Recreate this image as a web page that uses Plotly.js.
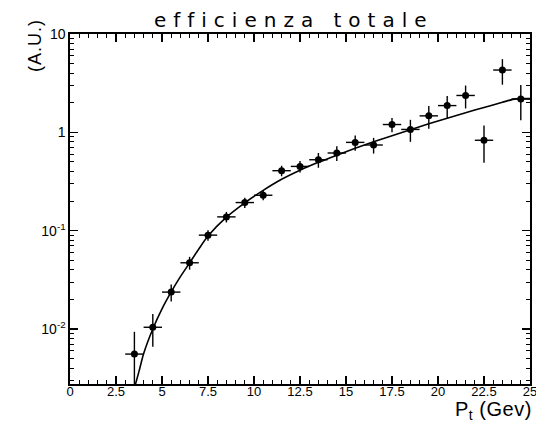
<!DOCTYPE html>
<html>
<head>
<meta charset="utf-8">
<script src="https://cdn.plot.ly/plotly-3.0.1.min.js"></script>
<style>
html,body{margin:0;padding:0;background:#fff;}
#chart{width:536px;height:423px;}
</style>
</head>
<body>
<div id="chart"></div>
<script>
// Data
var binCenters = [3.5, 4.5, 5.5, 6.5, 7.5, 8.5, 9.5, 10.5, 11.5, 12.5, 13.5, 14.5, 15.5, 16.5, 17.5, 18.5, 19.5, 20.5, 21.5, 22.5, 23.5, 24.5];
var efficiency = [0.00555, 0.0104, 0.0237, 0.0471, 0.090, 0.138, 0.193, 0.229, 0.407, 0.45, 0.526, 0.616, 0.79, 0.743, 1.20, 1.07, 1.47, 1.87, 2.37, 0.83, 4.3, 2.18];
var efficiencyErr = [0.0038, 0.0038, 0.0047, 0.007, 0.011, 0.017, 0.023, 0.025, 0.05, 0.06, 0.09, 0.105, 0.14, 0.135, 0.2, 0.27, 0.38, 0.47, 0.62, 0.34, 1.25, 0.85];
var binHalfWidth = [0.5, 0.5, 0.5, 0.5, 0.5, 0.5, 0.5, 0.5, 0.5, 0.5, 0.5, 0.5, 0.5, 0.5, 0.5, 0.5, 0.5, 0.5, 0.5, 0.5, 0.5, 0.5];

var fitX = [3.5, 3.75, 4.0, 4.5, 5.0, 5.5, 6.0, 6.5, 7.0, 7.5, 8.5, 9.5, 10.5, 11.5, 12.5, 13.5, 14.5, 15.5, 16.5, 17.5, 18.5, 19.5, 20.5, 21.5, 22.5, 23.5, 24.2, 24.5, 25];
var fitY = [0.0025, 0.0037, 0.0056, 0.0100, 0.0160, 0.0238, 0.034, 0.047, 0.065, 0.088, 0.137, 0.192, 0.257, 0.333, 0.412, 0.495, 0.586, 0.687, 0.80, 0.925, 1.064, 1.22, 1.39, 1.58, 1.79, 2.02, 2.19, 2.2, 2.2];

var yTickVals = [0.01, 0.1, 1, 10];
var yTickText = ['10<sup>-2</sup>', '10<sup>-1</sup>', '1', '10'];

var titleText = 'efficienza totale';
var yTitleText = '(A.U.)';
var xTitleText = 'P<sub>t</sub> (Gev)';

var yMinor = [];
[0.001, 0.01, 0.1, 1].forEach(function (d) {
  for (var k = 2; k <= 9; k++) yMinor.push(+(d * k).toPrecision(3));
});

var traces = [
  {
    x: fitX, y: fitY, type: 'scatter', mode: 'lines',
    line: {color: '#000', width: 1.6, shape: 'spline', smoothing: 0.7},
    hoverinfo: 'skip', showlegend: false, cliponaxis: true
  },
  {
    x: binCenters, y: efficiency, type: 'scatter', mode: 'markers',
    marker: {color: '#000', size: 7, symbol: 'circle'},
    error_y: {type: 'data', array: efficiencyErr, visible: true, width: 0, thickness: 1.4, color: '#000'},
    error_x: {type: 'data', array: binHalfWidth, visible: true, width: 0, thickness: 1.4, color: '#000'},
    showlegend: false, cliponaxis: true
  }
];

var layout = {
  width: 536, height: 423,
  margin: {l: 70, r: 6, t: 34, b: 39, pad: 0},
  paper_bgcolor: '#fff', plot_bgcolor: '#fff',
  font: {family: 'Liberation Sans, Arial, sans-serif', color: '#000', size: 13},
  showlegend: false,
  xaxis: {
    range: [0, 25], tickmode: 'linear', tick0: 0, dtick: 2.5,
    ticks: 'inside', ticklen: 8, tickwidth: 1.2, tickcolor: '#000',
    minor: {ticks: 'inside', ticklen: 4, tickwidth: 1, tickcolor: '#000', dtick: 0.5, tick0: 0},
    showline: true, linecolor: '#000', linewidth: 1.6, mirror: 'ticks',
    showgrid: false, zeroline: false, ticklabeloverflow: 'allow', ticklabelstandoff: -5,
    tickfont: {size: 13, family: 'Liberation Sans, Arial, sans-serif'}
  },
  yaxis: {
    type: 'log', range: [-2.56, 1],
    tickmode: 'array', tickvals: yTickVals, ticktext: yTickText,
    ticks: 'inside', ticklen: 8, tickwidth: 1.2, tickcolor: '#000',
    minor: {ticks: 'inside', ticklen: 4, tickwidth: 1, tickcolor: '#000', tickmode: 'array', tickvals: yMinor},
    showline: true, linecolor: '#000', linewidth: 1.6, mirror: 'ticks',
    showgrid: false, zeroline: false,
    tickfont: {size: 14, family: 'Liberation Sans, Arial, sans-serif'}
  },
  title: {
    text: titleText,
    x: 0.548, xref: 'container', xanchor: 'center',
    y: 1 - 20 / 423, yref: 'container', yanchor: 'middle',
    font: {size: 20, family: 'DejaVu Sans, sans-serif', color: '#000'}
  },
  annotations: [
    {
      text: yTitleText, xref: 'paper', yref: 'paper',
      x: -35 / 460, y: (384 - 46) / 350, xanchor: 'center', yanchor: 'middle',
      textangle: -90, showarrow: false,
      font: {size: 18, family: 'Liberation Sans, Arial, sans-serif', color: '#000'}
    },
    {
      text: xTitleText, xref: 'paper', yref: 'paper',
      x: 1.003, y: -(410 - 384) / 350, xanchor: 'right', yanchor: 'middle',
      showarrow: false, borderpad: 0,
      font: {size: 20, family: 'Liberation Sans, Arial, sans-serif', color: '#000'}
    }
  ]
};

Plotly.newPlot('chart', traces, layout, {displayModeBar: false, staticPlot: true}).then(function () {
  var t = document.querySelector('.gtitle');
  if (t) t.style.letterSpacing = '7px';
  var anns = document.querySelectorAll('.annotation-text');
  if (anns[0]) anns[0].style.letterSpacing = '1px';
  if (anns[1]) anns[1].style.letterSpacing = '0.5px';
});
</script>
</body>
</html>
